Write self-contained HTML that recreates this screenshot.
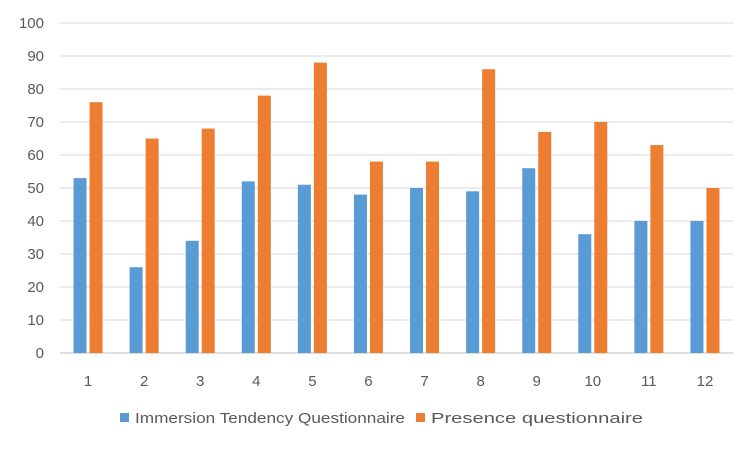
<!DOCTYPE html>
<html><head><meta charset="utf-8"><style>
body{margin:0;background:#fff;}
svg{display:block;font-family:"Liberation Sans",sans-serif;}
</style></head><body>
<svg id="chart" width="751" height="450" viewBox="0 0 751 450"></svg>
<script>
const categories=["1","2","3","4","5","6","7","8","9","10","11","12"];
const itqValues=[53,26,34,52,51,48,50,49,56,36,40,40];
const pqValues=[76,65,68,78,88,58,58,86,67,70,63,50];
const yTicks=[0,10,20,30,40,50,60,70,80,90,100];
const seriesNames=["Immersion Tendency Questionnaire","Presence questionnaire"];
const svg=document.getElementById('chart');
const NS='http://www.w3.org/2000/svg';
const x0=60,x1=733,y0=353,y1=23;
const band=(x1-x0)/categories.length;
function yScale(v){return y0-(v/100)*(y0-y1);}
function xCenter(i){return x0+band*(i+0.5);}
function mk(tag,attrs){const e=document.createElementNS(NS,tag);for(const k in attrs)e.setAttribute(k,attrs[k]);svg.appendChild(e);return e;}
yTicks.forEach(t=>{
  const l=mk('line',{x1:x0,x2:x1,y1:yScale(t),y2:yScale(t),stroke:t===0?'#bfbfbf':'#d9d9d9','stroke-width':1});
  
  
  const tx=mk('text',{x:44,y:yScale(t)+5,'text-anchor':'end','font-size':15,fill:'#595959'});
  tx.textContent=t;
  
  
});
const bw=13;
categories.forEach((c,i)=>{
  const cx=xCenter(i);
  const b1=mk('rect',{x:cx-bw-1.5,y:yScale(itqValues[i]),width:bw,height:y0-yScale(itqValues[i]),fill:'#5b9bd5'});
  
  
  const b2=mk('rect',{x:cx+1.5,y:yScale(pqValues[i]),width:bw,height:y0-yScale(pqValues[i]),fill:'#ed7d31'});
  
  
  const tx=mk('text',{x:cx,y:386,'text-anchor':'middle','font-size':15,fill:'#595959'});
  tx.textContent=c;
  
  
});
const legendX=[120,416],legendW=[270,212],colors=['#5b9bd5','#ed7d31'];
seriesNames.forEach((n,i)=>{
  const r=mk('rect',{x:legendX[i],y:413,width:9,height:9,fill:colors[i]});
  
  
  const t=mk('text',{x:legendX[i]+15,y:423,'font-size':15,fill:'#595959',textLength:legendW[i],lengthAdjust:'spacingAndGlyphs'});
  t.textContent=n;
  
  
});
</script>
</body></html>
